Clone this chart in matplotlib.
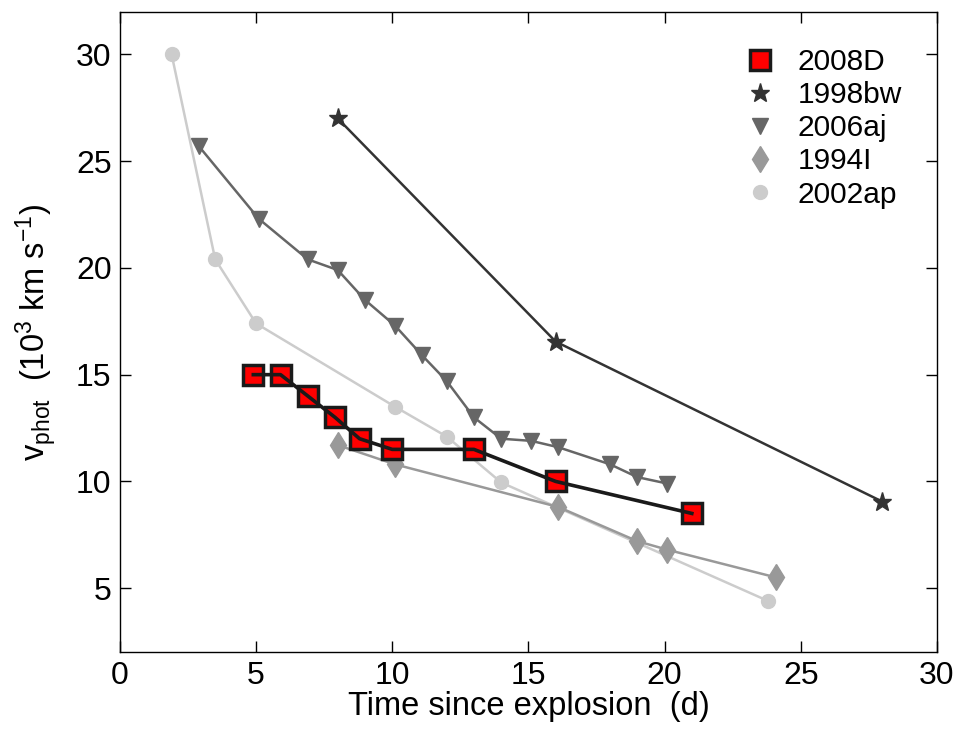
import matplotlib
matplotlib.use('Agg')
import matplotlib.pyplot as plt

plt.rcParams['font.family'] = ['Liberation Sans', 'DejaVu Sans']
plt.rcParams['mathtext.default'] = 'regular'

# ============ data ============
t_2008D = [4.9, 5.9, 6.9, 7.9, 8.8, 10.0, 13.0, 16.0, 21.0]
v_2008D = [15.0, 15.0, 14.0, 13.0, 12.0, 11.5, 11.5, 10.0, 8.5]

t_1998bw = [8.0, 16.0, 28.0]
v_1998bw = [27.0, 16.55, 9.05]

t_2006aj = [2.9, 5.1, 6.9, 8.0, 9.0, 10.1, 11.1, 12.0, 13.0, 14.0, 15.1, 16.1, 18.0, 19.0, 20.1]
v_2006aj = [25.7, 22.3, 20.4, 19.9, 18.5, 17.3, 15.9, 14.7, 13.0, 12.0, 11.9, 11.6, 10.8, 10.2, 9.9]

t_1994I = [8.0, 10.1, 16.1, 19.0, 20.1, 24.1]
v_1994I = [11.7, 10.8, 8.8, 7.2, 6.8, 5.5]

t_2002ap = [1.9, 3.5, 5.0, 10.1, 12.0, 14.0, 23.8]
v_2002ap = [30.0, 20.4, 17.4, 13.5, 12.1, 9.95, 4.4]

fig = plt.figure(figsize=(9.59, 7.32), dpi=100)
ax = fig.add_axes([0.125, 0.109, 0.852, 0.875])

# comparison SNe (back to front: light first)
ax.plot(t_2002ap, v_2002ap, '-', color='#cccccc', lw=1.8, zorder=2)
ax.plot(t_2002ap, v_2002ap, 'o', color='#cccccc', ms=10, mec='#cccccc', label='2002ap', zorder=2)

ax.plot(t_1994I, v_1994I, '-', color='#999999', lw=1.8, zorder=3)
ax.plot(t_1994I, v_1994I, 'd', color='#999999', ms=13, mec='#999999', label='1994I', zorder=3)

ax.plot(t_2006aj, v_2006aj, '-', color='#666666', lw=1.8, zorder=4)
ax.plot(t_2006aj, v_2006aj, 'v', color='#666666', ms=12, mec='#666666', label='2006aj', zorder=4)

ax.plot(t_1998bw, v_1998bw, '-', color='#333333', lw=1.8, zorder=5)
ax.plot(t_1998bw, v_1998bw, '*', color='#333333', ms=14, mec='#333333', label='1998bw', zorder=5)

# 2008D: markers, then line drawn on top
ax.plot(t_2008D, v_2008D, 's', mfc='#ff0000', mec='#1a1a1a', mew=2.5, ms=14,
        label='2008D', zorder=6)
ax.plot(t_2008D, v_2008D, '-', color='#1a1a1a', lw=2.6, zorder=7)

ax.set_xlim(0, 30)
ax.set_ylim(2, 32)
ax.set_xticks([0, 5, 10, 15, 20, 25, 30])
ax.set_yticks([5, 10, 15, 20, 25, 30])
ax.tick_params(direction='in', length=8, width=1, top=True, right=True, labelsize=23, pad=6)
for s in ax.spines.values():
    s.set_linewidth(1)

ax.set_xlabel('Time since explosion  (d)', fontsize=23.5, labelpad=0)
ax.set_ylabel(r'v$_{phot}$  (10$^{3}$ km s$^{-1}$)', fontsize=23.5, labelpad=12)

handles, labels = ax.get_legend_handles_labels()
order = ['2008D', '1998bw', '2006aj', '1994I', '2002ap']
hmap = dict(zip(labels, handles))
ax.legend([hmap[k] for k in order], order, loc='upper right', frameon=False,
          fontsize=21.5, handletextpad=0.5, labelspacing=0.17,
          bbox_to_anchor=(0.99, 0.985), handlelength=1.5)

fig.savefig('out.png', dpi=100)
